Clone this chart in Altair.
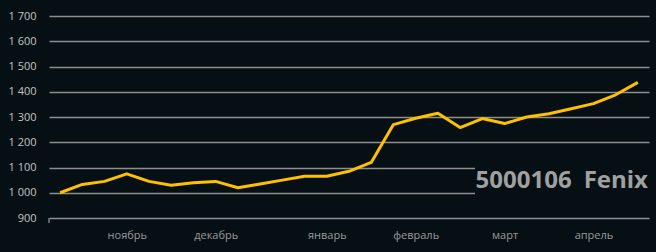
import altair as alt
import pandas as pd

values = [1000, 1033, 1045, 1075, 1045, 1030, 1040, 1045, 1020, 1035, 1050, 1065, 1065,
          1085, 1120, 1270, 1295, 1315, 1258, 1294, 1274, 1300, 1313, 1333, 1353, 1388, 1437]
idx = list(range(len(values)))
month_pos = [3, 7, 12, 16, 20, 24]
month_names = ["ноябрь", "декабрь", "январь", "февраль", "март", "апрель"]
y_ticks = [900, 1000, 1100, 1200, 1300, 1400, 1500, 1600, 1700]
label_text = ["5000106\u2002Fenix"]

df = pd.DataFrame({"i": idx, "v": values})

label_map = "{" + ",".join(f"'{p}':'{n}'" for p, n in zip(month_pos, month_names)) + "}"

x_enc = alt.X("i:Q", scale=alt.Scale(domain=[-0.5, 26.5], nice=False, zero=False),
              axis=alt.Axis(values=month_pos, labelExpr=f"{label_map}[datum.value]",
                            title=None, grid=False, domain=False, ticks=False,
                            labelColor="#9a9a9a", labelFontSize=11, labelFont="Open Sans",
                            labelPadding=11))
y_enc = alt.Y("v:Q", scale=alt.Scale(domain=[900, 1700], nice=False, zero=False),
              axis=alt.Axis(values=y_ticks, title=None, domain=False, ticks=False,
                            labelExpr="replace(format(datum.value, ','), ',', ' ')",
                            labelColor="#c4c4c4", labelFontSize=11, labelFont="Open Sans",
                            labelPadding=13, gridColor="#8e8e8e", gridWidth=1.3, gridOpacity=1))

line = alt.Chart(df).mark_line(color="#ffc000", strokeWidth=3, strokeJoin="round").encode(
    x=x_enc, y=y_enc)

box = alt.Chart(pd.DataFrame({"t": label_text})).mark_rect(color="#061014").encode(
    x=alt.value(426), x2=alt.value(604), y=alt.value(140), y2=alt.value(190))

txt = alt.Chart(pd.DataFrame({"t": label_text})).mark_text(
    color="#a0a0a0", fontSize=24, fontWeight="bold", font="Open Sans",
    align="right", baseline="alphabetic").encode(
    x=alt.value(599), y=alt.value(172), text="t:N")

tick = alt.Chart(pd.DataFrame({"t": [0]})).mark_rule(color="#8e8e8e", strokeWidth=1.3).encode(
    x=alt.value(0), y=alt.value(202), y2=alt.value(207))

chart = alt.layer(box, line, txt, tick).properties(
    width=600, height=202,
    autosize=alt.AutoSizeParams(type="none"),
    padding={"left": 49, "top": 16, "right": 7, "bottom": 34},
    background="#061014",
).configure_view(stroke=None)

chart.save("out.html", embed_options={"renderer": "svg", "actions": False})
